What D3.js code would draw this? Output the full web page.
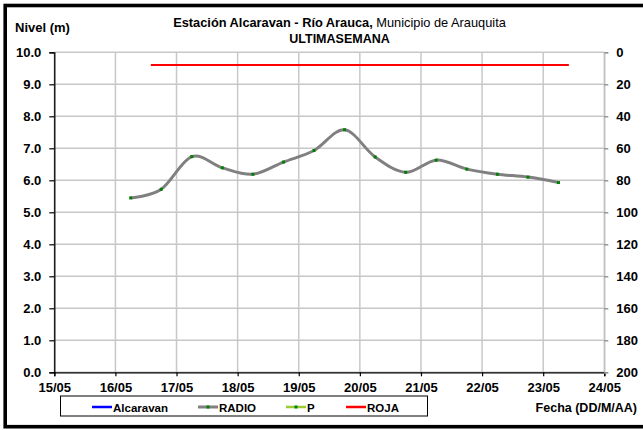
<!DOCTYPE html>
<html><head><meta charset="utf-8">
<script src="https://cdn.jsdelivr.net/npm/d3@7"></script>
<style>
html,body{margin:0;padding:0;background:#fff;}
svg{display:block;font-family:"Liberation Sans",Arial,sans-serif;}
</style></head>
<body>
<div id="chart"></div>
<script>
// Data (dates as fractional day of May)
const radioDates = [16.25,16.75,17.25,17.75,18.25,18.75,19.25,19.75,20.25,20.75,21.25,21.75,22.25,22.75,23.25];
const radioValues = [5.45,5.72,6.74,6.39,6.19,6.57,6.93,7.58,6.73,6.25,6.63,6.35,6.19,6.10,5.93];
const rojaDates = [16.58,23.42];
const rojaValues = [9.6,9.6];
const xTickLabels = ["15/05","16/05","17/05","18/05","19/05","20/05","21/05","22/05","23/05","24/05"];
const yTicks = [0,1,2,3,4,5,6,7,8,9,10];
const rightTicks = [0,20,40,60,80,100,120,140,160,180,200];
const legendNames = ["Alcaravan","RADIO","P","ROJA"];
const legendColors = ["#0000ff","#808080","#99cc33","#ff0000"];

const W=643,H=430;
const m={l:54.3,r:604.3,t:52.3,b:372.3};
const svg=d3.select("#chart").append("svg").attr("width",W).attr("height",H);

const x=d3.scaleLinear().domain([15,24]).range([m.l,m.r]);
const y=d3.scaleLinear().domain([0,10]).range([m.b,m.t]);
const y2=d3.scaleLinear().domain([0,200]).range([m.t,m.b]);

// outer border
svg.append("rect").attr("x",5.2).attr("y",5.5).attr("width",W+10).attr("height",H-8.8)
  .attr("fill","none").attr("stroke","#000").attr("stroke-width",3.6);

// grid
const g=svg.append("g");
g.selectAll(".hg").data(yTicks).join("line")
  .attr("x1",m.l).attr("x2",m.r).attr("y1",d=>y(d)).attr("y2",d=>y(d))
  .attr("stroke","#c8c8c8").attr("stroke-width",1.5);
g.selectAll(".vg").data(d3.range(15,25)).join("line")
  .attr("x1",d=>x(d)).attr("x2",d=>x(d)).attr("y1",m.t).attr("y2",m.b)
  .attr("stroke","#c8c8c8").attr("stroke-width",1.5);

// axes
const fs=13;
const yAxis=svg.append("g").attr("transform",`translate(${m.l},0)`)
  .call(d3.axisLeft(y).tickValues(yTicks).tickFormat(d3.format(".1f")).tickSize(5).tickPadding(8));
const xAxis=svg.append("g").attr("transform",`translate(0,${m.b})`)
  .call(d3.axisBottom(x).tickValues(d3.range(15,25)).tickFormat((d,i)=>xTickLabels[i]).tickSize(4).tickPadding(6));
const rAxis=svg.append("g").attr("transform",`translate(${m.r},0)`)
  .call(d3.axisRight(y2).tickValues(rightTicks).tickSize(4).tickPadding(8));
[yAxis,xAxis,rAxis].forEach(a=>{
  a.selectAll("text").attr("font-size",fs).attr("font-weight","bold").attr("fill","#000")
   .attr("font-family","Liberation Sans, Arial, sans-serif");
  a.selectAll("line").attr("stroke","#000").attr("stroke-width",1.2);
  a.select(".domain").attr("stroke","#000").attr("stroke-width",1.3);
});
rAxis.select(".domain").attr("stroke","#c0c0c0");
rAxis.selectAll(".tick line").attr("stroke","#808080");

// RADIO line
const line=d3.line().x((d,i)=>x(radioDates[i])).y(d=>y(d)).curve(d3.curveCardinal.tension(0));
svg.append("path").datum(radioValues).attr("d",line).attr("fill","none")
  .attr("stroke","#808080").attr("stroke-width",3);
svg.selectAll(".pt").data(radioValues).join("rect")
  .attr("x",(d,i)=>x(radioDates[i])-1.5).attr("y",d=>y(d)-1.5).attr("width",3).attr("height",3)
  .attr("fill","#008000");

// ROJA line
svg.append("line").attr("x1",x(rojaDates[0])).attr("x2",x(rojaDates[1]))
  .attr("y1",y(rojaValues[0])).attr("y2",y(rojaValues[1]))
  .attr("stroke","#ff0000").attr("stroke-width",2);

// titles
const t=svg.append("text").attr("x",339.5).attr("y",27).attr("text-anchor","middle").attr("font-size",12.8);
t.append("tspan").attr("font-weight","bold").text("Estación Alcaravan - Río Arauca,");
t.append("tspan").text(" Municipio de Arauquita");
svg.append("text").attr("x",339.5).attr("y",43).attr("text-anchor","middle").attr("font-size",12.5)
  .attr("font-weight","bold").text("ULTIMASEMANA");
svg.append("text").attr("x",15).attr("y",32).attr("font-size",13).attr("font-weight","bold").text("Nivel (m)");
svg.append("text").attr("x",637).attr("y",412).attr("text-anchor","end").attr("font-size",12.5)
  .attr("font-weight","bold").text("Fecha (DD/M/AA)");

// legend
svg.append("rect").attr("x",60.5).attr("y",396).attr("width",367).attr("height",20)
  .attr("fill","#fff").attr("stroke","#000").attr("stroke-width",1);
const lx=[92,198,286,346];
const lg=svg.selectAll(".lg").data(legendNames).join("g").attr("transform",(d,i)=>`translate(${lx[i]},407)`);
lg.append("line").attr("x1",0).attr("x2",20).attr("y1",0).attr("y2",0)
  .attr("stroke",(d,i)=>legendColors[i]).attr("stroke-width",(d,i)=>i===1?3:2.5);
lg.filter((d,i)=>i===1||i===2).append("rect").attr("x",8.5).attr("y",-1.5).attr("width",3).attr("height",3).attr("fill","#008000");
lg.append("text").attr("x",21).attr("y",4.5).attr("font-size",11.5).attr("font-weight","bold").text(d=>d);
</script>
</body></html>
